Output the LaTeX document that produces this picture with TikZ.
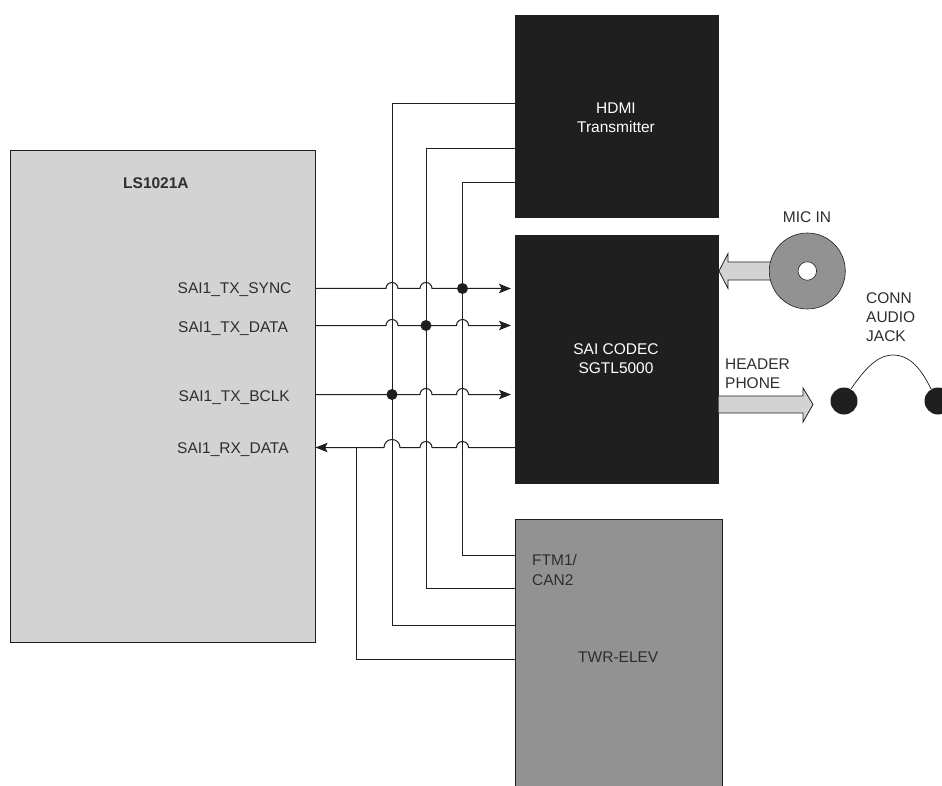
\documentclass[tikz,border=0pt]{standalone}
\usepackage{fontspec}
\setmainfont{Liberation Sans}
\usetikzlibrary{arrows.meta}
\definecolor{ink}{HTML}{1F1F1F}
\definecolor{txt}{HTML}{2E2E2E}
\definecolor{lightbox}{HTML}{D3D3D3}
\definecolor{midbox}{HTML}{929292}
\tikzset{
 x=1pt,y=-1pt,
 lbl/.style={font=\fontsize{15.5}{19}\selectfont,inner sep=0pt,text=txt},
 wlbl/.style={lbl,text=white,align=center},
 blk/.style={rectangle,draw=none,fill=ink,inner sep=0pt,minimum width=204pt},
 wire/.style={draw=ink,line width=1pt},
 tip/.style={-{Stealth[length=12pt,width=9.5pt,inset=2.5pt]}},
 dot/.style={circle,fill=ink,inner sep=0pt,minimum size=11pt},
 block/.style={draw=ink,line width=0.8pt,fill=lightbox,line join=miter},
}
\begin{document}
\begin{tikzpicture}
\useasboundingbox (0,0) rectangle (942,786);
% boxes
\node[rectangle,draw=ink,line width=0.6pt,fill=lightbox,inner sep=0pt,minimum width=305pt,minimum height=492pt,anchor=north west] (soc) at (10,150) {};
\node[blk,minimum height=203pt,anchor=north west] (hdmi) at (515,15) {};
\node[blk,minimum height=249pt,anchor=north west] (codec) at (515,235) {};
\node[rectangle,draw=ink,line width=0.4pt,fill=midbox,inner sep=0pt,minimum width=207pt,minimum height=268pt,anchor=north west] (twr) at (515,519) {};
% box texts
\node[lbl,font=\fontsize{15.5}{19}\selectfont\bfseries,anchor=base west] (socname) at (123,189) {LS1021A};
\node[wlbl] (hdmit) at (616,118) {HDMI\\Transmitter};
\node[wlbl] (codect) at (616,359) {SAI CODEC\\SGTL5000};
\node[lbl,anchor=base west] (ftm) at (532,565) {FTM1/};
\node[lbl,anchor=base west] (can) at (532,585) {CAN2};
\node[lbl,anchor=base west] (twrt) at (578,662) {TWR-ELEV};
\node[lbl,anchor=base west] (s1) at (177.5,294) {SAI1\_TX\_SYNC};
\node[lbl,anchor=base west] (s2) at (178,332) {SAI1\_TX\_DATA};
\node[lbl,anchor=base west] (s3) at (178.5,401) {SAI1\_TX\_BCLK};
\node[lbl,anchor=base west] (s4) at (177,453) {SAI1\_RX\_DATA};
% wire ends
\coordinate (a1) at (soc.east |- 0,288.5);
\coordinate (a2) at (soc.east |- 0,325.5);
\coordinate (a3) at (soc.east |- 0,394.5);
\coordinate (a4) at (soc.east |- 0,447.5);
\coordinate (b1) at (511,288.5);
\coordinate (b2) at (511,325.5);
\coordinate (b3) at (511,394.5);
\coordinate (b4) at (codec.west |- 0,447.5);
% vertical wires
\draw[wire] (hdmi.west |- 0,103.5) -- (392,103.5) -- (392,625.5) -- (twr.west |- 0,625.5);
\draw[wire] (hdmi.west |- 0,148.5) -- (426,148.5) -- (426,588.5) -- (twr.west |- 0,588.5);
\draw[wire] (hdmi.west |- 0,182.5) -- (462.5,182.5) -- (462.5,555.5) -- (twr.west |- 0,555.5);
\draw[wire] (356.5,447.5) -- (356.5,659.5) -- (twr.west |- 0,659.5);
% horizontal wires with jumps
\draw[wire,tip] (a1) -- (386,288.5) arc[start angle=180,end angle=360,radius=6] -- (420,288.5) arc[start angle=180,end angle=360,radius=6] -- (b1);
\draw[wire,tip] (a2) -- (386,325.5) arc[start angle=180,end angle=360,radius=6] -- (456.5,325.5) arc[start angle=180,end angle=360,radius=6] -- (b2);
\draw[wire,tip] (a3) -- (420,394.5) arc[start angle=180,end angle=360,radius=6] -- (456.5,394.5) arc[start angle=180,end angle=360,radius=6] -- (b3);
\draw[wire,tip] (b4) -- (468.5,447.5) arc[start angle=360,end angle=180,radius=6] -- (432,447.5) arc[start angle=360,end angle=180,radius=6] -- (400,447.5) arc[start angle=360,end angle=180,radius=8] -- (a4);
% dots
\node[dot] (d1) at (462.5,288.5) {};
\node[dot] (d2) at (426,325.5) {};
\node[dot] (d3) at (392,394.5) {};
% mic
\draw[block] (772,262) -- (728,262) -- (728,253.5) -- (719,271) -- (728,288.5) -- (728,280) -- (772,280);
\node[circle,draw=ink,line width=0.6pt,fill=midbox,inner sep=0pt,minimum size=76pt] (mic) at (807.3,271) {};
\node[circle,draw=ink,line width=0.6pt,fill=white,inner sep=0pt,minimum size=18.5pt] (hole) at (mic) {};
\node[lbl] (mict) at (807,217) {MIC IN};
% header phone
\draw[block] (718.5,396) -- (803,396) -- (803,388) -- (813,404.5) -- (803,422) -- (803,413) -- (718.5,413);
\node[lbl,align=left,anchor=west] (hp) at (725,374) {HEADER\\PHONE};
% jack
\node[circle,fill=ink,inner sep=0pt,minimum size=27pt] (j1) at (844,401) {};
\node[circle,fill=ink,inner sep=0pt,minimum size=27pt] (j2) at (938,401) {};
\draw[wire,line width=0.7pt] (851,389) .. controls (868,364) and (880,355) .. (893,355) .. controls (908,355) and (920,366) .. (931,389);
\node[lbl,align=left,anchor=west] (jt) at (866,317) {CONN\\AUDIO\\JACK};
\end{tikzpicture}
\end{document}
